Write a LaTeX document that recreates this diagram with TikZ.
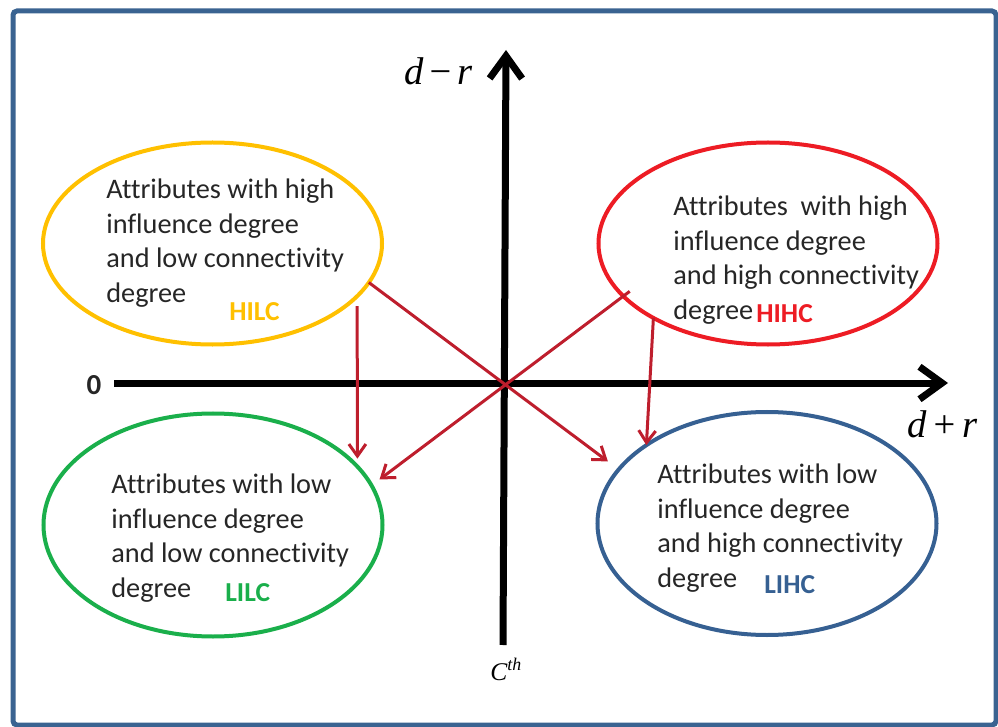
\documentclass[tikz,border=0pt]{standalone}
\usepackage{fontspec}
\setmainfont{Carlito}[Ligatures=NoCommon]
\newfontfamily\timesfont{Liberation Serif}
\usetikzlibrary{positioning, arrows.meta, shapes.geometric}
\definecolor{frameblue}{HTML}{3A6391}
\definecolor{hilcyellow}{HTML}{FFC000}
\definecolor{hihcred}{HTML}{ED1C24}
\definecolor{lilcgreen}{HTML}{1AAF4B}
\definecolor{lihcblue}{HTML}{366092}
\definecolor{linkred}{HTML}{BE1E2D}
\definecolor{textmain}{HTML}{262626}

\begin{document}
\begin{tikzpicture}[
    x=0.2mm, y=-0.2mm,
    zone/.style={ellipse, draw, line width=0.8mm, minimum width=67.8mm,
                 minimum height=40.4mm, inner sep=0pt, outer sep=0pt},
    lowzone/.style={zone, minimum height=44.6mm},
    desc/.style={anchor=north west, align=left, inner sep=0pt, text=textmain,
                 font=\fontsize{16.1}{19.7}\selectfont},
    tag/.style={anchor=base west, inner sep=0pt, font=\fontsize{15.6}{19}\selectfont\bfseries},
    axis/.style={line width=1.4mm, -{Straight Barb[length=4.5mm, width=6.5mm]}},
    link/.style={line width=0.6mm, linkred, -{Straight Barb[length=2.4mm, width=3.4mm]}},
    axislabel/.style={inner sep=0pt, font=\timesfont\itshape\fontsize{22}{26}\selectfont}
  ]
    \useasboundingbox (0,0) rectangle (998,727);
    \draw[frameblue, line width=1mm, rounded corners=0.8mm] (13,11) rectangle (996,725);

    \draw[axis] (114,383) -- (948,383);
    \draw[axis] (503,645) -- (506,50);
    \node[inner sep=0pt, text=textmain, font=\fontsize{16.5}{19}\selectfont\bfseries] (zero) at (94,385) {0};
    \node[axislabel, anchor=base east] (dminusr) at (473,85) {d\hspace{0.1em}−\hspace{0.1em}r};
    \node[axislabel, anchor=base west] (dplusr) at (907,437) {d\hspace{0.12em}+\hspace{0.12em}r};
    \node[axislabel, anchor=base west, font=\timesfont\itshape\fontsize{14.5}{17}\selectfont] (cth) at (490,680) {C\textsuperscript{th}};

    \node[zone, draw=hilcyellow] (hilc) at (212.5,243.5) {};
    \node[zone, draw=hihcred] (hihc) at (768,243.5) {};
    \node[lowzone, draw=lilcgreen] (lilc) at (213,525) {};
    \node[lowzone, draw=lihcblue] (lihc) at (767,523.5) {};

    \node[desc] (hilctext) at (106,178.5) {Attributes with high\\influence degree\\and low connectivity\\degree};
    \node[desc] (hihctext) at (673,195.5) {Attributes~ with high\\influence degree\\and high connectivity\\degree};
    \node[desc] (lilctext) at (111,473.5) {Attributes with low\\influence degree\\and low connectivity\\degree};
    \node[desc] (lihctext) at (657,463.5) {Attributes with low\\influence degree\\and high connectivity\\degree};

    \node[tag, text=hilcyellow] (hilctag) at (229,320) {HILC};
    \node[tag, text=hihcred] (hihctag) at (756,322) {HIHC};
    \node[tag, text=lilcgreen] (lilctag) at (225,601) {LILC};
    \node[tag, text=lihcblue] (lihctag) at (764,593) {LIHC};

    \draw[link, shorten <=2mm, shorten >=1.6mm] (hilc.-20) -- (lilc.22);
    \draw[link, shorten >=2.7mm] (hilc.-14) -- (lihc.160);
    \draw[link, shorten <=-1.6mm, shorten >=2mm] (hihc.200) -- (lilc.14);
    \draw[link] (hihc.213) -- (lihc.147);
  \end{tikzpicture}
\end{document}
